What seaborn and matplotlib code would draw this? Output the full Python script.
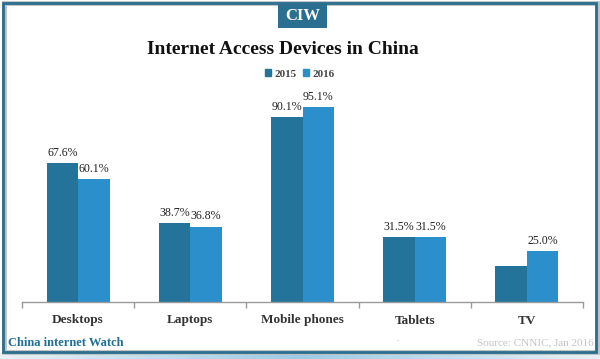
import matplotlib
matplotlib.use("Agg")
import matplotlib.pyplot as plt
import seaborn as sns
import pandas as pd
import numpy as np
from matplotlib.patches import Rectangle
from matplotlib.colors import LinearSegmentedColormap

categories = ["Desktops", "Laptops", "Mobile phones", "Tablets", "TV"]
years = ["2015", "2016"]
values_2015 = [67.6, 38.7, 90.1, 31.5, 17.5]
values_2016 = [60.1, 36.8, 95.1, 31.5, 25.0]
show_2015 = [True, True, True, True, False]
show_2016 = [True, True, True, True, True]

colors = ["#23739b", "#2b8fcb"]

df = pd.DataFrame({
    "Device": categories * 2,
    "Year": ["2015"] * 5 + ["2016"] * 5,
    "Value": values_2015 + values_2016,
})

sns.set_theme(style="white")
plt.rcParams["font.family"] = ["Liberation Serif", "DejaVu Serif"]

fig = plt.figure(figsize=(6.0, 3.59), dpi=100)
ax = fig.add_axes([22/600, 1-302/359, 561/600, 205/359])

sns.barplot(data=df, x="Device", y="Value", hue="Year", palette=colors,
            width=0.56, ax=ax, legend=False, saturation=1, edgecolor="none")

ax.set_xlim(-0.5, 4.5)
ax.set_ylim(0, 100)
ax.set_xlabel("")
ax.set_ylabel("")
ax.set_yticks([])
for s in ["left", "right", "top"]:
    ax.spines[s].set_visible(False)
ax.spines["bottom"].set_color("#9a9a9a")
ax.spines["bottom"].set_linewidth(1.0)
ax.set_xticks(range(5))
ax.set_xticklabels(categories, fontsize=9.5, fontweight="bold", color="#333333")
ax.tick_params(axis="x", which="major", length=0, pad=9)
ax.set_xticks(np.arange(-0.5, 5.0, 1.0), minor=True)
ax.tick_params(axis="x", which="minor", bottom=True, length=4, color="#9a9a9a",
               width=1, direction="out")

shows = [show_2015, show_2016]
for ci, cont in enumerate(ax.containers):
    for bar, show in zip(cont, shows[ci]):
        if show:
            ax.text(bar.get_x() + bar.get_width()/2, bar.get_height() + 2.0,
                    f"{bar.get_height():.1f}%", ha="center", va="bottom",
                    fontsize=8.6, color="#222222")

# Title and legend
fig.text(0.472, 1-50/359, "Internet Access Devices in China", ha="center", va="center",
         fontsize=14, fontweight="bold", color="#111111")
handles = [Rectangle((0, 0), 1, 1, color=c) for c in colors]
fig.legend(handles, years, loc="center", bbox_to_anchor=(0.5, 1-74/359), ncol=2,
           frameon=False, handlelength=0.55, handleheight=0.55, handletextpad=0.3,
           columnspacing=0.6, prop={"size": 8, "weight": "bold"}, labelcolor="#444444")

# Frame
fig.patches.append(Rectangle((3.5/600, 1-352/359), 593/600, 349/359, transform=fig.transFigure,
                             fill=False, edgecolor="#bfbfbf", linewidth=3.5, zorder=0))
fig.patches.append(Rectangle((3/600, 1-352/359), 593/600, 349/359, transform=fig.transFigure,
                             fill=False, edgecolor="#2a6f8f", linewidth=2.0, zorder=1))

# CIW badge
fig.patches.append(Rectangle((278/600, 1-28/359), 49/600, 25/359, transform=fig.transFigure,
                             facecolor="#2a6f8f", edgecolor="none", zorder=2))
fig.text(302.5/600, 1-16/359, "CIW", ha="center", va="center", fontsize=12,
         fontweight="bold", color="white", zorder=3)

# Bottom texts
fig.text(8/600, 1-343/359, "China internet Watch", ha="left", va="center",
         fontsize=9, fontweight="bold", color="#1f6f94")
fig.text(398/600, 1-341/359, "\u00b7", ha="center", va="center", fontsize=8, color="#c4c4c4")
fig.text(594/600, 1-343/359, "Source: CNNIC, Jan 2016", ha="right", va="center",
         fontsize=8, color="#c4c4c4")

# bottom gradient strip
gax = fig.add_axes([0, 0, 1, 6/359])
grad = np.linspace(0, 1, 256).reshape(1, -1)
cmap = LinearSegmentedColormap.from_list("g", ["#e8f1f6", "#9ccbe6", "#e8f1f6"])
gax.imshow(grad, aspect="auto", cmap=cmap)
gax.set_axis_off()

fig.savefig("out.png", dpi=100)
